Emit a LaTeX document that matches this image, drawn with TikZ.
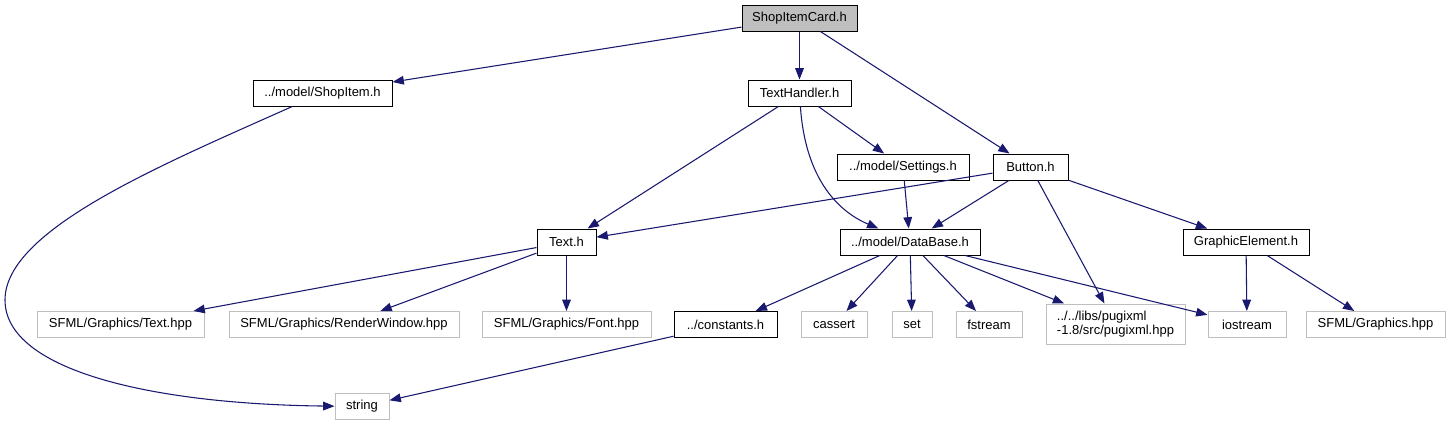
\documentclass[tikz,border=0pt]{standalone}
\usepackage{fontspec}
\setmainfont{Liberation Sans}
\usetikzlibrary{arrows.meta}
\definecolor{edgec}{RGB}{25,25,112}
\definecolor{graybd}{RGB}{191,191,191}
\definecolor{grayfill}{RGB}{191,191,191}
\begin{document}
\begin{tikzpicture}[x=0.75pt,y=-0.75pt,
  box/.style={draw=black, line width=0.75pt, inner sep=0pt, minimum height=19.5pt,
    font=\fontsize{9.75}{11}\selectfont, fill=white},
  ext/.style={box, draw=graybd},
  edge/.style={draw=edgec, line width=0.8pt, -{Triangle[length=8.5pt,width=6.5pt]}}]
\useasboundingbox (0,0) rectangle (1450,425);
% row 1
\node[box, fill=grayfill, minimum width=86.25pt] (sic) at (799.5,18) {ShopItemCard.h};
% row 2
\node[box, minimum width=104.25pt] (si) at (322.5,93) {../model/ShopItem.h};
\node[box, minimum width=77.25pt] (th) at (799.5,93) {TextHandler.h};
% row 3
\node[box, minimum width=99pt] (set) at (903,167) {../model/Settings.h};
\node[box, minimum width=56.25pt] (btn) at (1030.5,167) {Button.h};
% row 4
\node[box, minimum width=44.25pt] (txt) at (566.5,242) {Text.h};
\node[box, minimum width=105pt] (db) at (910,242) {../model/DataBase.h};
\node[box, minimum width=94.5pt] (ge) at (1246,242) {GraphicElement.h};
% row 5
\node[ext, minimum width=125.25pt] (thpp) at (120.5,324.5) {SFML/Graphics/Text.hpp};
\node[ext, minimum width=172.5pt] (rw) at (344,324.5) {SFML/Graphics/RenderWindow.hpp};
\node[ext, minimum width=126.75pt] (font) at (566.5,324.5) {SFML/Graphics/Font.hpp};
\node[box, minimum width=77.25pt] (cons) at (725.5,324.5) {../constants.h};
\node[ext, minimum width=49.5pt] (cas) at (834,324.5) {cassert};
\node[ext, minimum width=30pt] (sset) at (912,324.5) {set};
\node[ext, minimum width=49.5pt] (fs) at (989,324.5) {fstream};
\node[ext, minimum width=104.25pt, minimum height=30pt, align=left] (pug) at (1115.5,324) {../../libs/pugixml\\-1.8/src/pugixml.hpp};
\node[ext, minimum width=58.5pt] (ios) at (1247,324.5) {iostream};
\node[ext, minimum width=104.25pt] (gfx) at (1375.5,324.5) {SFML/Graphics.hpp};
% row 6
\node[ext, minimum width=40.5pt] (str) at (362,406.5) {string};
\coordinate (bendL) at (5,300);
% edges
\draw[edge] (sic) -- (si);
\draw[edge] (sic) -- (th);
\draw[edge] (sic) -- (btn);
\draw[edge] (si) .. controls (159,166) and (5,230) .. (bendL)
                 .. controls (5,370) and (150,404) .. (str);
\draw[edge] (th) -- (txt);
\draw[edge] (th) .. controls (805,175) and (835,210) .. (db);
\draw[edge] (th) -- (set);
\draw[edge] (set) -- (db);
\draw[edge] (btn) -- (txt);
\draw[edge] (btn) -- (db);
\draw[edge] (btn) -- (pug);
\draw[edge] (btn) -- (ge);
\draw[edge] (txt) -- (thpp);
\draw[edge] (txt) -- (rw);
\draw[edge] (txt) -- (font);
\draw[edge] (db) -- (cons);
\draw[edge] (db) -- (cas);
\draw[edge] (db) -- (sset);
\draw[edge] (db) -- (fs);
\draw[edge] (db) -- (pug);
\draw[edge] (db) -- (ios);
\draw[edge] (ge) -- (ios);
\draw[edge] (ge) -- (gfx);
\draw[edge] (cons) -- (str);
\end{tikzpicture}
\end{document}
